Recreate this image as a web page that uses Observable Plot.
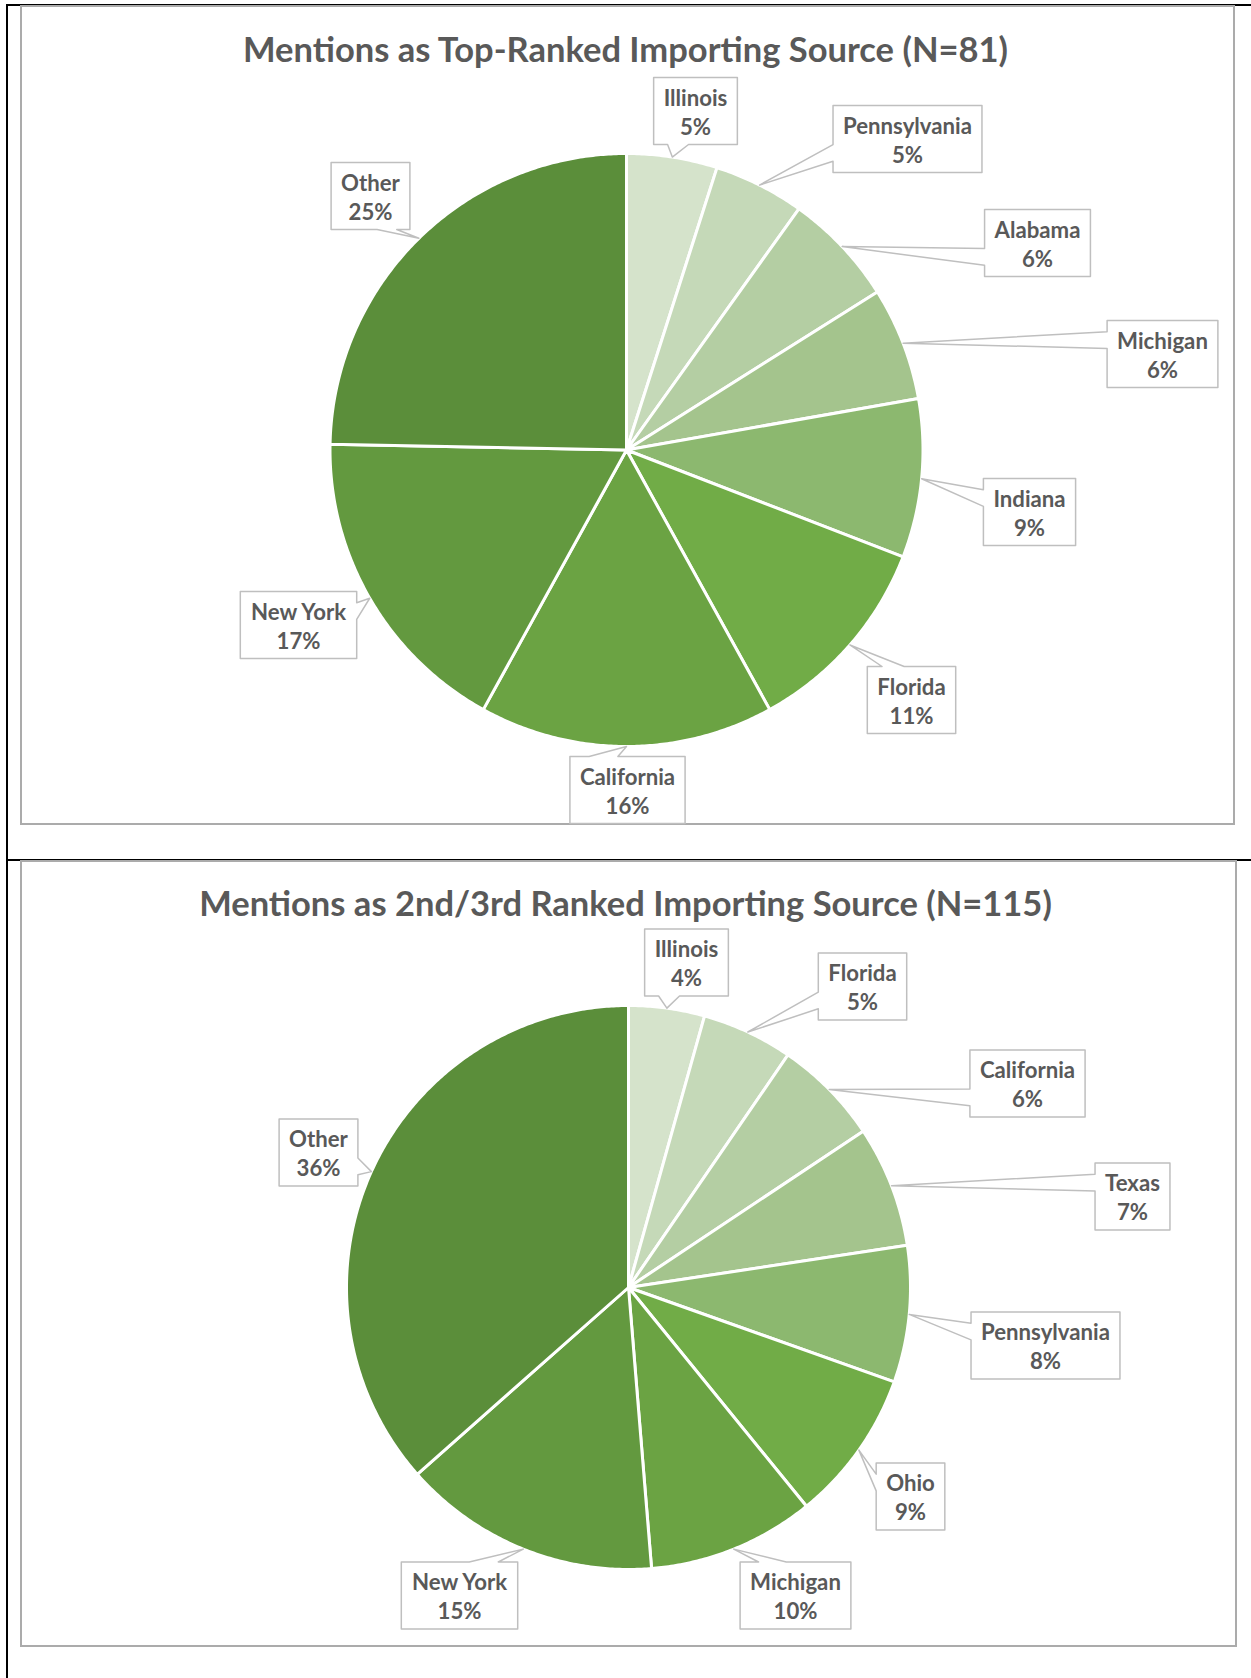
<!DOCTYPE html>
<html>
<head>
<meta charset="utf-8">
<script src="https://cdn.jsdelivr.net/npm/d3@7"></script>
<script src="https://cdn.jsdelivr.net/npm/@observablehq/plot@0.6"></script>
<style>
  html, body { margin: 0; padding: 0; background: #fff; }
  body { width: 1251px; height: 1678px; position: relative; overflow: hidden; font-family: Lato, "Open Sans", sans-serif; }
  .abs { position: absolute; }
  .title { position: absolute; left: 0; width: 1251px; text-align: center; color: #595959; font-weight: 700; white-space: nowrap; font-family: Lato, sans-serif; }
</style>
</head>
<body>
<script>
// ---------- data ----------
const topTitle = "Mentions as Top-Ranked Importing Source (N=81)";
const topStates = ["Illinois", "Pennsylvania", "Alabama", "Michigan", "Indiana", "Florida", "California", "New York", "Other"];
// slice sizes (mentions, N=81)
const topCounts = [4, 4, 5, 5, 7, 9, 13, 14, 20];
// percentage labels as printed
const topLabels = ["5%", "5%", "6%", "6%", "9%", "11%", "16%", "17%", "25%"];

const botTitle = "Mentions as 2nd/3rd Ranked Importing Source (N=115)";
const botStates = ["Illinois", "Florida", "California", "Texas", "Pennsylvania", "Ohio", "Michigan", "New York", "Other"];
// slice sizes (mentions, N=115)
const botCounts = [5, 6, 7, 8, 9, 10, 11, 17, 42];
// percentage labels as printed
const botLabels = ["4%", "5%", "6%", "7%", "8%", "9%", "10%", "15%", "36%"];

// slice colours, lightest (first slice) to darkest (last slice)
const greens = ["#D5E3CB", "#C5D9B8", "#B4CEA3", "#A4C48D", "#8CB86F", "#71AC47", "#6BA343", "#63993F", "#5B8E3A"];

// ---------- layout (callout box centres relative to pie centre) ----------
const topLabelOffsets = [[69, -339], [281, -311], [411, -207], [536, -96], [403, 62], [285, 250], [1, 340], [-328, 175], [-256, -254]];
const botLabelOffsets = [[58, -325], [234, -301], [399, -204], [504, -91], [417, 58], [282, 209], [167, 308], [-169, 308], [-310, -135]];

const W = 1251;
const textColor = "#595959";
const ctx = document.createElement("canvas").getContext("2d");
function tw(text, size) { ctx.font = `bold ${size}px Lato`; return ctx.measureText(text).width; }

// font sizes fitted to the reference text widths
const titleFs = (100 * 766 / tw(topTitle, 100) + 100 * 853 / tw(botTitle, 100)) / 2;
const labelFs = 21 * 129 / tw("Pennsylvania", 21);

// ---------- frame lines ----------
function box(style) {
  const d = document.createElement("div");
  d.className = "abs";
  Object.assign(d.style, style);
  document.body.append(d);
  return d;
}
box({ left: "6px", top: "4px", width: "1245px", height: "2px", background: "#000" });
box({ left: "6px", top: "4px", width: "2px", height: "1674px", background: "#000" });
box({ left: "6px", top: "859px", width: "1245px", height: "2px", background: "#000" });
box({ left: "20px", top: "5px", width: "1211px", height: "816px", border: "2px solid #ABABAB" });
box({ left: "20px", top: "860px", width: "1213px", height: "783px", border: "2px solid #ABABAB" });

// ---------- callout geometry (Excel wedgeRectCallout) ----------
function calloutPoly(key, bx, by, w, h, tx, ty) {
  const l = bx - w / 2, r = bx + w / 2, t = by - h / 2, b = by + h / 2;
  const dxPos = tx - bx, dyPos = ty - by;
  const horiz = Math.abs(dxPos * h) > Math.abs(dyPos * w);
  const x1 = l + w * (dxPos > 0 ? 7 : 2) / 12, x2 = l + w * (dxPos > 0 ? 10 : 5) / 12;
  const y1 = t + h * (dyPos > 0 ? 7 : 2) / 12, y2 = t + h * (dyPos > 0 ? 10 : 5) / 12;
  const pts = [[l, t]];
  if (!horiz && dyPos < 0) pts.push([x1, t], [tx, ty], [x2, t]);
  pts.push([r, t]);
  if (horiz && dxPos > 0) pts.push([r, y1], [tx, ty], [r, y2]);
  pts.push([r, b]);
  if (!horiz && dyPos > 0) pts.push([x2, b], [tx, ty], [x1, b]);
  pts.push([l, b]);
  if (horiz && dxPos < 0) pts.push([l, y2], [tx, ty], [l, y1]);
  return pts.map(([x, y]) => ({ key, x, y }));
}

function drawPie({ states, counts, pctLabels, offsets, cx, cy, r, H, top }) {
  const arcs = d3.pie().sort(null).value(d => d)(counts);
  const slices = [];
  const callouts = [];
  const labels = [];
  arcs.forEach((a, i) => {
    const key = states[i];
    slices.push({ key, x: cx, y: cy });
    const n = Math.max(4, Math.ceil((a.endAngle - a.startAngle) / (Math.PI / 360)));
    for (let k = 0; k <= n; k++) {
      const t = a.startAngle + (a.endAngle - a.startAngle) * k / n;
      slices.push({ key, x: cx + r * Math.sin(t), y: cy - r * Math.cos(t) });
    }
    const mid = (a.startAngle + a.endAngle) / 2;
    const tx = cx + r * Math.sin(mid), ty = cy - r * Math.cos(mid);
    const bx = cx + offsets[i][0], by = cy + offsets[i][1];
    const pctText = pctLabels[i];
    const text = `${key}\n${pctText}`;
    const w = Math.max(tw(key, labelFs), tw(pctText, labelFs)) + 20;
    callouts.push(...calloutPoly(key, bx, by, w, 67, tx, ty));
    labels.push({ x: bx, y: by, text });
  });

  const chart = Plot.plot({
    width: W,
    height: H,
    margin: 0,
    x: { domain: [0, W], range: [0, W], axis: null },
    y: { domain: [0, H], range: [0, H], axis: null },
    color: { domain: states, range: greens },
    style: { background: "transparent", fontFamily: "Lato, sans-serif" },
    marks: [
      Plot.line(slices, { x: "x", y: "y", z: "key", fill: "key", stroke: "white", strokeWidth: 3, strokeLinejoin: "round", curve: "linear-closed" }),
      Plot.line(callouts, { x: "x", y: "y", z: "key", fill: "white", stroke: "#BFBFBF", strokeWidth: 1.5, curve: "linear-closed" }),
      Plot.text(labels, { x: "x", y: "y", text: "text", fontSize: labelFs, fontWeight: "bold", fill: textColor, lineHeight: 29 / labelFs, textAnchor: "middle", fontFamily: "Lato, sans-serif" })
    ]
  });
  chart.style.position = "absolute";
  chart.style.left = "0px";
  chart.style.top = top + "px";
  document.body.append(chart);
}

drawPie({ states: topStates, counts: topCounts, pctLabels: topLabels, offsets: topLabelOffsets, cx: 626, cy: 449.5, r: 296.5, H: 859, top: 0 });
drawPie({ states: botStates, counts: botCounts, pctLabels: botLabels, offsets: botLabelOffsets, cx: 628, cy: 427, r: 282, H: 818, top: 860 });

// ---------- titles ----------
function title(text, cyCenter) {
  const d = document.createElement("div");
  d.className = "title";
  d.textContent = text;
  d.style.fontSize = titleFs + "px";
  d.style.lineHeight = titleFs + "px";
  d.style.top = (cyCenter - 0.53 * titleFs) + "px";
  document.body.append(d);
}
title(topTitle, 50);
title(botTitle, 904);
</script>
</body>
</html>
